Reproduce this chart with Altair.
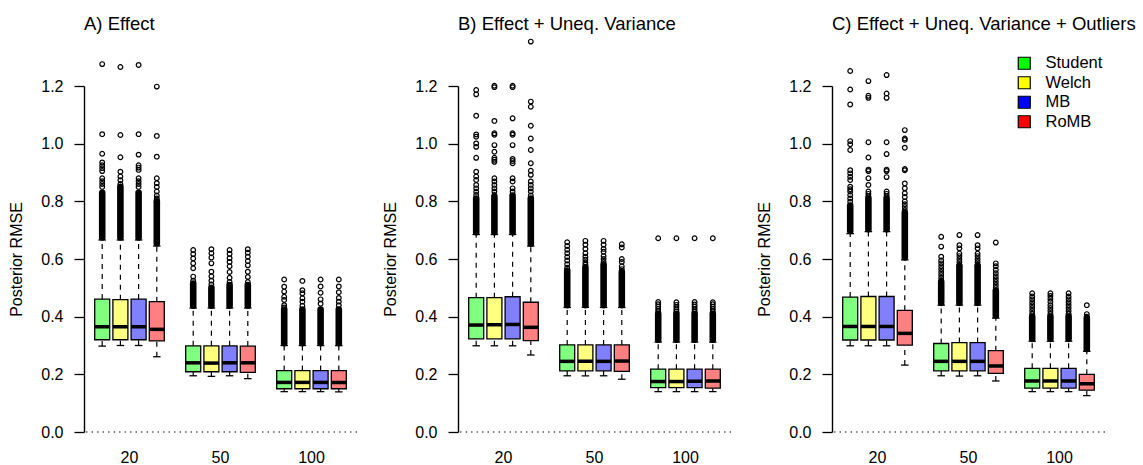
import altair as alt
import pandas as pd

methods = ["Student", "Welch", "MB", "RoMB"]
sizes = ["20", "50", "100"]
panel_titles = ["A) Effect", "B) Effect + Uneq. Variance", "C) Effect + Uneq. Variance + Outliers"]
box_colors = ["#80FF80", "#FFFF80", "#8080FF", "#FF8080"]
legend_colors = ["#00FF00", "#FFFF00", "#0000FF", "#FF0000"]
y_ticks = [0.0, 0.2, 0.4, 0.6, 0.8, 1.0, 1.2]

# order of every list: n=20 (Student, Welch, MB, RoMB), n=50 (...), n=100 (...)
A_lower = [0.298, 0.300, 0.300, 0.261, 0.195, 0.193, 0.195, 0.185, 0.140, 0.140, 0.140, 0.139]
A_q1 = [0.320, 0.320, 0.320, 0.316, 0.209, 0.209, 0.209, 0.207, 0.150, 0.150, 0.150, 0.150]
A_med = [0.365, 0.365, 0.365, 0.356, 0.240, 0.239, 0.240, 0.240, 0.172, 0.172, 0.172, 0.172]
A_q3 = [0.461, 0.459, 0.461, 0.452, 0.299, 0.299, 0.299, 0.298, 0.213, 0.213, 0.213, 0.213]
A_upper = [0.666, 0.666, 0.666, 0.645, 0.430, 0.430, 0.430, 0.430, 0.300, 0.300, 0.300, 0.300]
A_dense = [[0.675, 0.83], [0.675, 0.85], [0.675, 0.83], [0.655, 0.80],
           [0.438, 0.515], [0.438, 0.50], [0.438, 0.51], [0.438, 0.51],
           [0.308, 0.425], [0.308, 0.425], [0.308, 0.425], [0.308, 0.425]]
A_out = [
    [1.276, 1.033, 0.965, 0.935, 0.925, 0.915, 0.905, 0.88, 0.87, 0.86, 0.85],
    [1.266, 1.030, 0.953, 0.903, 0.886, 0.873, 0.86],
    [1.273, 1.033, 0.962, 0.925, 0.917, 0.909, 0.88, 0.87, 0.86, 0.85],
    [1.198, 1.027, 0.955, 0.88, 0.863, 0.85, 0.834, 0.82, 0.81],
    [0.631, 0.617, 0.602, 0.585, 0.568, 0.539, 0.525],
    [0.634, 0.62, 0.605, 0.585, 0.556, 0.54, 0.525, 0.512],
    [0.631, 0.618, 0.603, 0.59, 0.575, 0.555, 0.535, 0.52],
    [0.634, 0.622, 0.608, 0.593, 0.578, 0.556, 0.538, 0.52],
    [0.529, 0.504, 0.487, 0.469, 0.458, 0.44, 0.432],
    [0.524, 0.492, 0.481, 0.464, 0.452, 0.438],
    [0.529, 0.505, 0.483, 0.46, 0.445],
    [0.529, 0.505, 0.485, 0.465, 0.452, 0.44],
]

B_lower = [0.299, 0.299, 0.299, 0.267, 0.195, 0.195, 0.195, 0.183, 0.140, 0.140, 0.140, 0.140]
B_q1 = [0.323, 0.323, 0.323, 0.317, 0.212, 0.212, 0.212, 0.210, 0.154, 0.154, 0.154, 0.152]
B_med = [0.371, 0.372, 0.373, 0.363, 0.245, 0.245, 0.245, 0.246, 0.175, 0.175, 0.176, 0.177]
B_q3 = [0.466, 0.466, 0.469, 0.450, 0.302, 0.302, 0.302, 0.302, 0.218, 0.218, 0.218, 0.218]
B_upper = [0.685, 0.685, 0.685, 0.645, 0.432, 0.432, 0.432, 0.432, 0.312, 0.312, 0.312, 0.312]
B_dense = [[0.693, 0.81], [0.693, 0.815], [0.693, 0.82], [0.653, 0.81],
           [0.44, 0.56], [0.44, 0.57], [0.44, 0.58], [0.44, 0.555],
           [0.32, 0.41], [0.32, 0.41], [0.32, 0.41], [0.32, 0.41]]
B_out = [
    [1.186, 1.171, 1.097, 1.032, 1.024, 1.001, 0.989, 0.951, 0.903, 0.886, 0.874, 0.857, 0.845, 0.833, 0.822],
    [1.201, 1.196, 1.079, 1.036, 1.031, 0.995, 0.972, 0.951, 0.944, 0.937, 0.88, 0.869, 0.857, 0.845, 0.834, 0.822],
    [1.201, 1.196, 1.088, 1.036, 1.031, 0.995, 0.947, 0.94, 0.932, 0.88, 0.869, 0.845, 0.834],
    [1.354, 1.146, 1.128, 1.062, 1.018, 0.978, 0.932, 0.906, 0.892, 0.869, 0.857, 0.845, 0.834, 0.82],
    [0.658, 0.645, 0.632, 0.62, 0.607, 0.595, 0.582, 0.57],
    [0.663, 0.65, 0.635, 0.62, 0.608, 0.598, 0.588, 0.58],
    [0.663, 0.65, 0.635, 0.625, 0.61, 0.60, 0.59],
    [0.651, 0.64, 0.60, 0.59, 0.575, 0.565],
    [0.672, 0.451, 0.443, 0.435, 0.427, 0.419],
    [0.672, 0.450, 0.441, 0.433, 0.425, 0.418],
    [0.672, 0.451, 0.442, 0.434, 0.426, 0.418],
    [0.672, 0.450, 0.443, 0.435, 0.427, 0.419],
]

C_lower = [0.299, 0.299, 0.299, 0.232, 0.195, 0.194, 0.195, 0.177, 0.140, 0.140, 0.140, 0.126]
C_q1 = [0.319, 0.319, 0.319, 0.301, 0.212, 0.212, 0.212, 0.203, 0.152, 0.152, 0.152, 0.145]
C_med = [0.366, 0.366, 0.366, 0.342, 0.245, 0.245, 0.245, 0.229, 0.177, 0.177, 0.177, 0.167]
C_q3 = [0.468, 0.470, 0.470, 0.422, 0.307, 0.310, 0.310, 0.282, 0.221, 0.221, 0.221, 0.200]
C_upper = [0.688, 0.695, 0.695, 0.597, 0.440, 0.440, 0.440, 0.395, 0.315, 0.315, 0.315, 0.280]
C_dense = [[0.697, 0.785], [0.703, 0.81], [0.703, 0.81], [0.605, 0.76],
           [0.448, 0.52], [0.448, 0.575], [0.448, 0.575], [0.403, 0.49],
           [0.323, 0.40], [0.323, 0.40], [0.323, 0.40], [0.288, 0.395]]
C_out = [
    [1.252, 1.188, 1.136, 1.009, 0.998, 0.978, 0.908, 0.897, 0.885, 0.874, 0.851, 0.842, 0.834, 0.822, 0.81, 0.799],
    [1.217, 1.166, 1.159, 1.005, 0.952, 0.91, 0.905, 0.88, 0.857, 0.834, 0.826, 0.818],
    [1.238, 1.174, 1.159, 1.005, 0.964, 0.91, 0.905, 0.884, 0.834, 0.826, 0.818],
    [1.047, 1.018, 1.013, 0.986, 0.912, 0.908, 0.862, 0.845, 0.828, 0.815, 0.80, 0.79, 0.78, 0.77],
    [0.677, 0.643, 0.608, 0.595, 0.585, 0.575, 0.565, 0.555, 0.545, 0.535, 0.525],
    [0.683, 0.648, 0.637, 0.619, 0.61, 0.60, 0.59, 0.58],
    [0.683, 0.648, 0.637, 0.619, 0.61, 0.60, 0.59, 0.58],
    [0.657, 0.585, 0.575, 0.562, 0.551, 0.54, 0.53, 0.52, 0.51, 0.50],
    [0.481, 0.47, 0.46, 0.45, 0.44, 0.43, 0.42, 0.41],
    [0.481, 0.472, 0.462, 0.452, 0.44, 0.43, 0.42, 0.41],
    [0.481, 0.47, 0.46, 0.45, 0.44, 0.43, 0.42, 0.41],
    [0.44, 0.409, 0.40],
]

PANELS = [
    (A_lower, A_q1, A_med, A_q3, A_upper, A_dense, A_out),
    (B_lower, B_q1, B_med, B_q3, B_upper, B_dense, B_out),
    (C_lower, C_q1, C_med, C_q3, C_upper, C_dense, C_out),
]

FONT = "Liberation Sans"
PLOT_H = 398

x_scale = alt.Scale(domain=sizes, paddingInner=0, paddingOuter=0)
xo_scale = alt.Scale(domain=methods, paddingInner=0, paddingOuter=0.5)
# the axis spans 0..1.2 only; outliers above 1.2 extend into the space above it
y_scale = alt.Scale(domain=[y_ticks[0], y_ticks[-1]], range=[PLOT_H, 52.0], nice=False, zero=False)
x_axis = alt.Axis(title=None, labelAngle=0, domain=False, ticks=False, tickSize=0,
                  labelPadding=17, labelFontSize=16, labelColor="black", labelFont=FONT)
y_axis = alt.Axis(values=y_ticks, format=".1f", domain=True, domainColor="black", domainWidth=1.4,
                  grid=False,
                  tickSize=10, tickWidth=1.3, tickColor="black",
                  labelPadding=11, labelFontSize=16, labelColor="black", labelFont=FONT,
                  title="Posterior RMSE", titleFontSize=16, titleFontWeight="normal",
                  titleColor="black", titleFont=FONT, titlePadding=16)


def X():
    return alt.X("size:N", scale=x_scale, sort=sizes, axis=x_axis)


def XO():
    return alt.XOffset("method:N", scale=xo_scale, sort=methods)


def Y(field):
    return alt.Y(f"{field}:Q", scale=y_scale, axis=y_axis, title="Posterior RMSE")


def make_panel(idx, with_legend):
    lower, q1, med, q3, upper, dense, outs = PANELS[idx]
    rows, drows, orows = [], [], []
    k = 0
    for s in sizes:
        for m in methods:
            rows.append({"size": s, "method": m, "lower": lower[k], "q1": q1[k],
                         "med": med[k], "q3": q3[k], "upper": upper[k]})
            drows.append({"size": s, "method": m, "lo": dense[k][0], "hi": dense[k][1]})
            for v in outs[k]:
                orows.append({"size": s, "method": m, "value": v})
            k += 1
    box_df = pd.DataFrame(rows)
    dense_df = pd.DataFrame(drows)
    out_df = pd.DataFrame(orows)
    zero_df = pd.DataFrame({"ybot": [y_ticks[0]]})

    base = alt.Chart(box_df)
    zero_line = alt.Chart(zero_df).mark_rule(strokeDash=[1.4, 4.1], strokeWidth=1.2, color="black").encode(
        y=Y("ybot"))
    whisk_up = base.mark_rule(strokeDash=[5, 5], strokeWidth=1.2, color="black").encode(
        x=X(), xOffset=XO(), y=Y("q3"), y2="upper:Q")
    whisk_lo = base.mark_rule(strokeDash=[5, 5], strokeWidth=1.2, color="black").encode(
        x=X(), xOffset=XO(), y=Y("lower"), y2="q1:Q")
    staple_lo = base.mark_tick(size=7.5, thickness=1.3, color="black", opacity=1).encode(
        x=X(), xOffset=XO(), y=Y("lower"))
    staple_up = base.mark_tick(size=7.5, thickness=1.3, color="black", opacity=1).encode(
        x=X(), xOffset=XO(), y=Y("upper"))
    boxes = base.mark_bar(width=15, stroke="black", strokeWidth=1.3).encode(
        x=X(), xOffset=XO(), y=Y("q1"), y2="q3:Q",
        fill=alt.Fill("method:N", scale=alt.Scale(domain=methods, range=box_colors), legend=None))
    medians = base.mark_tick(size=15, thickness=3.5, color="black", opacity=1).encode(
        x=X(), xOffset=XO(), y=Y("med"))
    dense_mark = alt.Chart(dense_df).mark_rule(strokeWidth=6.6, strokeCap="round", color="black").encode(
        x=X(), xOffset=XO(), y=Y("lo"), y2="hi:Q")
    points = alt.Chart(out_df).mark_point(shape="circle", filled=False, size=22, strokeWidth=1.2,
                                          color="black", opacity=1).encode(
        x=X(), xOffset=XO(), y=Y("value"))
    layers = [zero_line, whisk_up, whisk_lo, staple_lo, staple_up, boxes, medians,
              dense_mark, points]
    if with_legend:
        leg_df = pd.DataFrame({"method": methods})
        legend_layer = alt.Chart(leg_df).mark_point(shape="square", filled=True, size=0).encode(
            color=alt.Color("method:N", sort=methods,
                            scale=alt.Scale(domain=methods, range=legend_colors),
                            legend=alt.Legend(title=None, orient="none", legendX=184, legendY=21,
                                              symbolType="square", symbolSize=144,
                                              symbolStrokeColor="black", symbolStrokeWidth=1.2,
                                              symbolOpacity=1,
                                              labelFontSize=16.5, labelFont=FONT, labelColor="black",
                                              labelOffset=13, rowPadding=1.5, padding=0)))
        layers.append(legend_layer)
    return alt.layer(*layers).properties(
        width=273, height=PLOT_H,
        title=alt.TitleParams(panel_titles[idx], anchor="start", frame="group", fontSize=18.5,
                              fontWeight="normal", font=FONT, color="black", offset=1))


chart = alt.hconcat(
    make_panel(0, False), make_panel(1, False), make_panel(2, True),
    spacing=101, bounds="flush"
).resolve_scale(color="independent").properties(
    padding={"left": 8, "top": 14, "right": 2, "bottom": 0}
).configure(font=FONT, background="white").configure_view(stroke="transparent", strokeWidth=0)

chart.save("out.html", embed_options={"renderer": "svg", "actions": False})
